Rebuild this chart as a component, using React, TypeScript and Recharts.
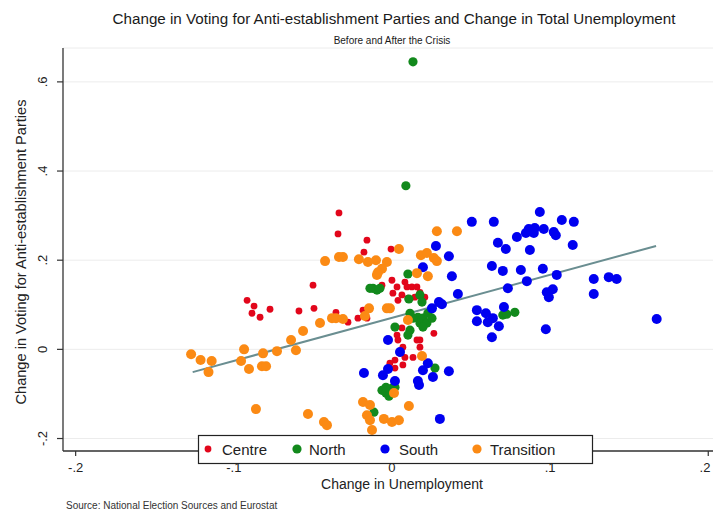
import React from 'react';
import { ScatterChart, Scatter, XAxis, YAxis, CartesianGrid, ReferenceLine } from 'recharts';

const categories = ['Centre', 'North', 'South', 'Transition'];
const colors = ['#e2061b', '#12891c', '#0000f0', '#fb8a14'];
const radii = [3.4, 4.6, 5, 5];

const centre: [number, number][] = [
  [-0.0335, 0.306], [-0.0341, 0.259], [-0.0499, 0.144], [-0.0916, 0.110], [-0.0872, 0.097],
  [-0.0885, 0.081], [-0.0834, 0.072], [-0.0771, 0.090], [-0.0588, 0.086], [-0.0493, 0.092],
  [-0.0354, 0.083], [-0.0158, 0.245], [-0.0177, 0.218], [-0.0006, 0.225], [0.0, 0.155],
  [0.0032, 0.140], [0.0006, 0.126], [0.0063, 0.122], [0.0082, 0.151], [0.0038, 0.110],
  [0.0126, 0.140], [0.0158, 0.140], [0.0177, 0.128], [0.0145, 0.117], [0.0208, 0.117],
  [0.0095, 0.140], [-0.0063, 0.144], [0.0101, 0.115], [-0.0183, 0.088], [-0.0215, 0.070],
  [-0.0158, 0.070], [-0.0278, 0.061], [0.0063, 0.048], [0.0032, 0.032], [0.0038, 0.021],
  [0.0069, 0.005], [0.0051, -0.009], [0.0019, -0.024], [-0.0013, -0.031], [0.0082, -0.018],
  [0.0133, -0.018], [0.0158, 0.021], [0.0177, 0.021], [0.0177, 0.005], [0.0265, 0.036],
  [0.0019, -0.042], [0.0069, -0.035],
];

const north: [number, number][] = [
  [0.0133, 0.645], [0.0088, 0.367], [0.0101, 0.169], [-0.012, 0.137], [-0.0095, 0.133],
  [-0.0139, 0.137], [-0.0076, 0.137], [0.0107, 0.113], [0.0177, 0.122], [0.019, 0.106],
  [0.0114, 0.081], [0.0164, 0.072], [0.0196, 0.070], [0.0177, 0.059], [0.0221, 0.059],
  [0.0227, 0.081], [0.0196, 0.050], [0.0133, 0.070], [0.0253, 0.070], [0.0019, 0.050],
  [0.0114, 0.043], [0.0101, 0.032], [0.0272, -0.042], [-0.0063, -0.092], [-0.0038, -0.098],
  [-0.0019, -0.105], [0.0, -0.087], [-0.0038, -0.085], [0.0019, -0.085], [-0.0114, -0.141],
  [0.0701, 0.077], [0.0726, 0.079], [0.0777, 0.083],
];

const south: [number, number][] = [
  [0.0278, 0.232], [0.036, 0.209], [0.0196, 0.184], [0.0379, 0.164], [0.0417, 0.124],
  [0.0297, 0.106], [0.0253, 0.092], [-0.0025, 0.021], [0.0051, -0.006], [-0.0177, -0.053],
  [-0.0057, -0.058], [-0.0025, -0.044], [0.0019, -0.071], [0.0164, -0.071], [0.0171, -0.080],
  [0.0196, -0.047], [0.0227, -0.031], [0.0259, -0.062], [0.036, -0.049], [0.0303, -0.156],
  [0.0505, 0.286], [0.0644, 0.286], [0.0935, 0.308], [0.1074, 0.290], [0.115, 0.286],
  [0.067, 0.239], [0.072, 0.225], [0.079, 0.252], [0.0847, 0.261], [0.0865, 0.270],
  [0.0903, 0.272], [0.0897, 0.261], [0.096, 0.270], [0.1023, 0.263], [0.1036, 0.256],
  [0.0872, 0.223], [0.1143, 0.234], [0.0632, 0.187], [0.0701, 0.176], [0.0815, 0.178],
  [0.0954, 0.181], [0.1042, 0.167], [0.0853, 0.153], [0.1276, 0.158], [0.1371, 0.162],
  [0.1421, 0.158], [0.0733, 0.137], [0.1017, 0.135], [0.0979, 0.128], [0.0992, 0.117],
  [0.1276, 0.124], [0.0316, 0.101], [0.0537, 0.088], [0.0594, 0.081], [0.0708, 0.095],
  [0.0537, 0.063], [0.0606, 0.061], [0.0638, 0.070], [0.0676, 0.052], [0.0632, 0.027],
  [0.0973, 0.045], [0.1674, 0.068],
];

const transition: [number, number][] = [
  [-0.0423, 0.198], [-0.0335, 0.207], [-0.0562, 0.041], [-0.0455, 0.059], [-0.0379, 0.070],
  [-0.0354, 0.070], [-0.0638, 0.021], [-0.0607, -0.002], [-0.0727, -0.004], [-0.0815, -0.009],
  [-0.0935, 0.0], [-0.0954, -0.026], [-0.0904, -0.044], [-0.0822, -0.038], [-0.0796, -0.038],
  [-0.127, -0.011], [-0.121, -0.024], [-0.114, -0.026], [-0.116, -0.051], [-0.086, -0.134],
  [-0.0531, -0.145], [-0.043, -0.163], [-0.0411, -0.170], [0.0284, 0.265], [0.0411, 0.265],
  [0.0044, 0.225], [-0.031, 0.207], [-0.0209, 0.202], [-0.0152, 0.196], [-0.0101, 0.200],
  [-0.0032, 0.196], [0.0183, 0.211], [0.0221, 0.216], [0.0265, 0.205], [0.0284, 0.198],
  [-0.0063, 0.181], [-0.0095, 0.167], [-0.0088, 0.173], [0.0158, 0.171], [0.0227, 0.164],
  [-0.0032, 0.092], [-0.0013, 0.092], [-0.0145, 0.092], [-0.0171, 0.075], [-0.031, 0.068],
  [0.0101, 0.066], [0.019, -0.015], [0.0013, -0.098], [-0.0183, -0.118], [-0.0139, -0.125],
  [-0.0158, -0.148], [-0.0139, -0.159], [-0.0051, -0.156], [0.0, -0.163], [0.0044, -0.159],
  [-0.0126, -0.181], [0.0107, -0.127],
];

const seriesValues = [centre, north, south, transition];

const xTicks = [-0.2, -0.1, 0, 0.1, 0.2];
const yTicks = [-0.2, 0, 0.2, 0.4, 0.6];
const fitLine = [{ x: -0.126, y: -0.051 }, { x: 0.167, y: 0.232 }];

const titleText = 'Change in Voting for Anti-establishment Parties and Change in Total Unemployment';
const subtitleText = 'Before and After the Crisis';
const yTitle = 'Change in Voting for Anti-establishment Parties';
const xTitle = 'Change in Unemployment';
const sourceText = 'Source: National Election Sources and Eurostat';

const FONT = '"Liberation Sans", Arial, sans-serif';
const TEXT = '#222';

const fmt = (v: number) => (v === 0 ? '0' : (v < 0 ? '-' : '') + String(Math.abs(v)).replace(/^0/, ''));

const YTick = (props: any) => {
  const { x, y, payload } = props;
  return (
    <text x={x} y={y} transform={`rotate(-90 ${x} ${y})`} textAnchor="middle" fontSize={13} fill={TEXT} fontFamily={FONT}>
      {fmt(payload.value)}
    </text>
  );
};

const XTick = (props: any) => {
  const { x, y, payload } = props;
  return (
    <text x={x} y={y} textAnchor="middle" fontSize={13} fill={TEXT} fontFamily={FONT}>
      {fmt(payload.value)}
    </text>
  );
};

const makeShape = (color: string, r: number) => (p: any) => <circle cx={p.cx} cy={p.cy} r={r} fill={color} />;

const legendDots = [208, 297, 385, 477];
const legendTexts = [222, 309, 399, 490];

export default function App() {
  return (
    <div style={{ position: 'absolute', left: 0, top: 0, width: 715, height: 513, background: '#fff' }}>
      <ScatterChart width={715} height={513} margin={{ top: 48, right: 2, bottom: 32, left: 0 }}>
        <CartesianGrid vertical={false} stroke="#ececec" strokeWidth={1} />
        <XAxis
          type="number"
          dataKey="x"
          domain={[-0.208, 0.203]}
          ticks={xTicks}
          allowDataOverflow
          height={30}
          tickSize={5}
          tickMargin={16}
          tick={<XTick />}
          axisLine={{ stroke: '#333', strokeWidth: 1.3 }}
          tickLine={{ stroke: '#333', strokeWidth: 1.2 }}
        />
        <YAxis
          type="number"
          dataKey="y"
          domain={[-0.228, 0.676]}
          ticks={yTicks}
          allowDataOverflow
          width={63}
          tickSize={6}
          tickMargin={10}
          tick={<YTick />}
          axisLine={{ stroke: '#333', strokeWidth: 1.3 }}
          tickLine={{ stroke: '#333', strokeWidth: 1.2 }}
        />
        {seriesValues.map((vals, i) => (
          <Scatter
            key={categories[i]}
            name={categories[i]}
            data={vals.map(([x, y]) => ({ x, y }))}
            fill={colors[i]}
            shape={makeShape(colors[i], radii[i])}
            isAnimationActive={false}
          />
        ))}
        <ReferenceLine segment={fitLine} stroke="#6a8e91" strokeWidth={2} ifOverflow="visible" />
      </ScatterChart>
      <svg width={715} height={513} style={{ position: 'absolute', left: 0, top: 0, pointerEvents: 'none' }} fontFamily={FONT}>
        <text x={394} y={24} textAnchor="middle" fontSize={15.2} fill="#1a1a1a">{titleText}</text>
        <text x={392} y={44} textAnchor="middle" fontSize={10} fill="#1a1a1a">{subtitleText}</text>
        <text x={26} y={252} transform="rotate(-90 26 252)" textAnchor="middle" fontSize={14.6} fill={TEXT}>{yTitle}</text>
        <text x={402} y={489} textAnchor="middle" fontSize={14} fill={TEXT}>{xTitle}</text>
        <text x={66} y={509} fontSize={10} fill="#333">{sourceText}</text>
        <rect x={198.5} y={435.5} width={394} height={28} fill="#fff" stroke="#222" strokeWidth={1.2} />
        {categories.map((c, i) => (
          <g key={c}>
            <circle cx={legendDots[i]} cy={449} r={i === 0 ? 3.4 : 4.6} fill={colors[i]} />
            <text x={legendTexts[i]} y={454.5} fontSize={15} fill={TEXT}>{c}</text>
          </g>
        ))}
      </svg>
    </div>
  );
}
